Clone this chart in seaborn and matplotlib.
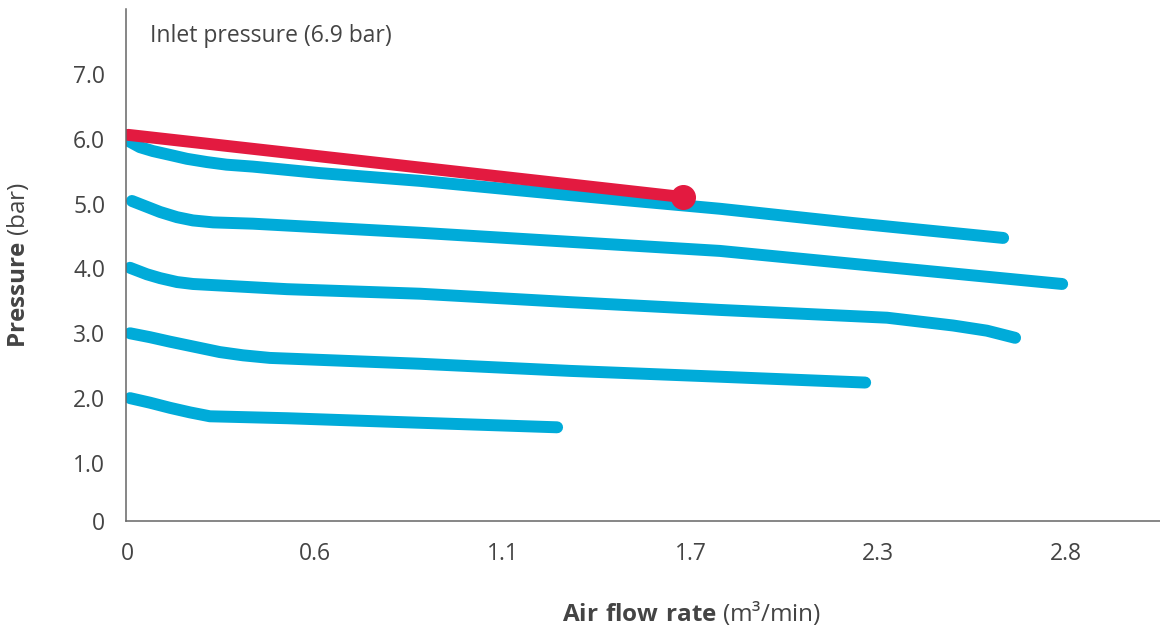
import pandas as pd
import seaborn as sns
import matplotlib.pyplot as plt

# air flow rate (m3/min) / outlet pressure (bar)
flow_6 = [0.003, 0.039, 0.078, 0.130, 0.181, 0.241, 0.300, 0.380, 0.582, 0.884, 1.336, 1.788, 2.189, 2.642]
pres_6 = [5.97, 5.87, 5.81, 5.75, 5.69, 5.64, 5.60, 5.57, 5.47, 5.35, 5.13, 4.92, 4.70, 4.47]
flow_5 = [0.015, 0.060, 0.100, 0.151, 0.199, 0.260, 0.380, 0.884, 1.336, 1.788, 2.292, 2.820]
pres_5 = [5.04, 4.95, 4.87, 4.79, 4.74, 4.71, 4.69, 4.55, 4.41, 4.27, 4.02, 3.76]
flow_4 = [0.009, 0.060, 0.100, 0.151, 0.199, 0.483, 0.884, 1.336, 1.788, 2.292, 2.391, 2.491, 2.593, 2.678]
pres_4 = [4.01, 3.91, 3.85, 3.79, 3.76, 3.68, 3.61, 3.48, 3.36, 3.24, 3.18, 3.12, 3.04, 2.93]
flow_3 = [0.009, 0.069, 0.130, 0.280, 0.350, 0.431, 0.884, 1.336, 1.788, 2.226]
pres_3 = [3.00, 2.94, 2.87, 2.71, 2.66, 2.62, 2.53, 2.42, 2.33, 2.24]
flow_2 = [0.009, 0.069, 0.130, 0.190, 0.250, 0.483, 0.884, 1.297]
pres_2 = [2.00, 1.93, 1.85, 1.78, 1.72, 1.69, 1.62, 1.55]
flow_sel = [0.003, 1.677]  # highlighted setting
pres_sel = [6.06, 5.10]

x_ticks = [0, 0.566, 1.133, 1.699, 2.265, 2.832]
x_tick_labels = ["0", "0.6", "1.1", "1.7", "2.3", "2.8"]
y_ticks = [0.105, 1, 2, 3, 4, 5, 6, 7]
y_tick_labels = ["0", "1.0", "2.0", "3.0", "4.0", "5.0", "6.0", "7.0"]

BLUE = "#00ABD9"
RED = "#E31A40"
TEXT = "#444444"

curves = []
for name, fx, py in [("6.0", flow_6, pres_6), ("5.0", flow_5, pres_5),
                     ("4.0", flow_4, pres_4), ("3.0", flow_3, pres_3),
                     ("2.0", flow_2, pres_2)]:
    curves.append(pd.DataFrame({"flow": fx, "pressure": py, "curve": name}))
df = pd.concat(curves, ignore_index=True)
df_sel = pd.DataFrame({"flow": flow_sel, "pressure": pres_sel})

sns.set_style("white")
plt.rcParams["font.family"] = ["Open Sans", "DejaVu Sans"]
plt.rcParams["mathtext.fontset"] = "custom"
plt.rcParams["mathtext.bf"] = "Open Sans:bold"
plt.rcParams["mathtext.rm"] = "Open Sans"

fig = plt.figure(figsize=(11.6, 6.31), dpi=100)
ax = fig.add_axes([0.1086, 0.1743, 0.8914, 0.8114])

sns.lineplot(data=df, x="flow", y="pressure", hue="curve", units="curve",
             estimator=None, sort=False, palette=[BLUE] * 5, linewidth=8.6,
             solid_capstyle="round", solid_joinstyle="round", legend=False, ax=ax)
sns.lineplot(data=df_sel, x="flow", y="pressure", estimator=None, sort=False,
             color=RED, linewidth=8.6, solid_capstyle="round", ax=ax)
ax.plot(flow_sel[-1:], pres_sel[-1:], "o", color=RED, markersize=17, zorder=5)

ax.set_xlim(-0.003, 3.115)
ax.set_ylim(0.105, 8.0)
ax.set_xticks(x_ticks, x_tick_labels)
ax.set_yticks(y_ticks, y_tick_labels)
ax.tick_params(direction="in", colors="#555555", labelcolor=TEXT, labelsize=16.5,
               width=1.1, pad=15)
ax.tick_params(axis="x", length=9.5)
ax.tick_params(axis="y", length=11.5, pad=15)

for s in ["top", "right"]:
    ax.spines[s].set_visible(False)
for s in ["left", "bottom"]:
    ax.spines[s].set_color("#666666")
    ax.spines[s].set_linewidth(1.1)

ax.text(0.069, 7.59, "Inlet pressure (6.9 bar)", fontsize=16.5, color=TEXT, va="center")

ax.set_xlabel(r"$\bf{Air\ flow\ rate}$ (m³/min)", fontsize=17.5, color=TEXT)
ax.set_ylabel(r"$\bf{Pressure}$ (bar)", fontsize=17.5, color=TEXT)
ax.xaxis.set_label_coords(0.547, -0.152)
ax.yaxis.set_label_coords(-0.092, 0.5)

fig.savefig("out.png", dpi=100)
